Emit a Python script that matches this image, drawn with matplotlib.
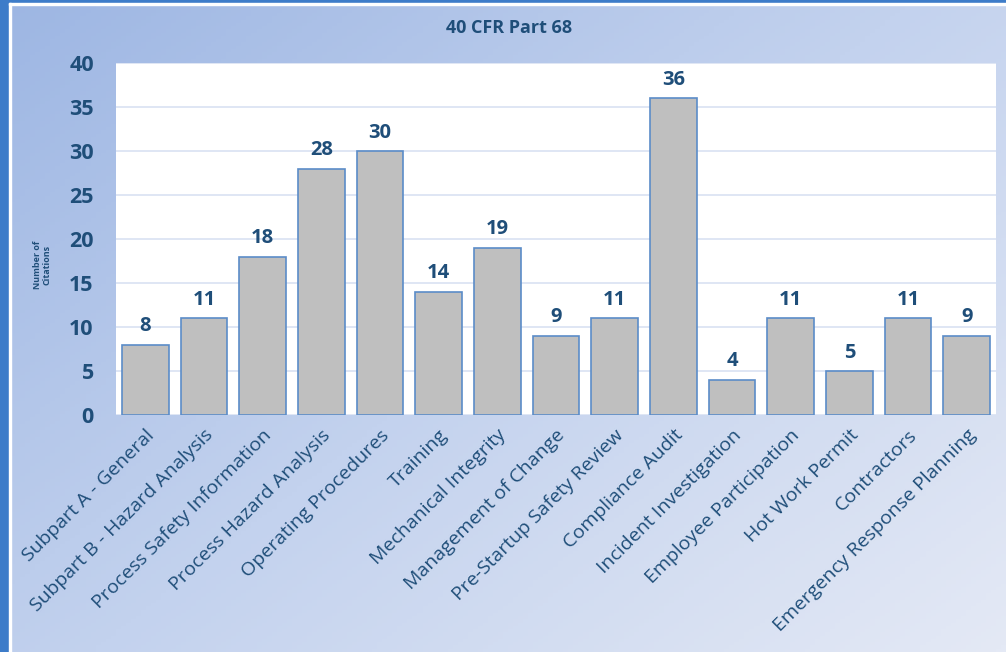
import matplotlib
matplotlib.use("Agg")
import matplotlib.pyplot as plt
import numpy as np
from matplotlib.colors import LinearSegmentedColormap

categories = ["Subpart A - General", "Subpart B - Hazard Analysis", "Process Safety Information",
              "Process Hazard Analysis", "Operating Procedures", "Training", "Mechanical Integrity",
              "Management of Change", "Pre-Startup Safety Review", "Compliance Audit",
              "Incident Investigation", "Employee Participation", "Hot Work Permit",
              "Contractors", "Emergency Response Planning"]
citations = [8, 11, 18, 28, 30, 14, 19, 9, 11, 36, 4, 11, 5, 11, 9]
yticks = [0, 5, 10, 15, 20, 25, 30, 35, 40]

plt.rcParams['font.family'] = ['Open Sans', 'DejaVu Sans']
W, H = 1006, 652
fig = plt.figure(figsize=(W/100, H/100), dpi=100)

# gradient background
bg = fig.add_axes([0, 0, 1, 1])
xx, yy = np.meshgrid(np.linspace(0, 1, 200), np.linspace(0, 1, 200))
t = (xx*0.55 + yy*0.45)
cmap = LinearSegmentedColormap.from_list("g", ["#9db6e3", "#c3d2ee", "#e4e9f5"])
bg.imshow(t, cmap=cmap, extent=[0, 1, 0, 1], origin='upper', aspect='auto')
bg.set_xlim(0, 1); bg.set_ylim(0, 1); bg.axis('off')
# borders
bg.add_patch(plt.Rectangle((0, 0), 9/W, 1, color="#3d7cc9", transform=bg.transAxes))
bg.add_patch(plt.Rectangle((0, 1-3/H), 1, 3/H, color="#3d7cc9", transform=bg.transAxes))
bg.add_patch(plt.Rectangle((9/W, 0), 2/W, 1-3/H, color="white", transform=bg.transAxes))
bg.add_patch(plt.Rectangle((9/W, 1-5/H), 1, 2/H, color="white", transform=bg.transAxes))

left, right, top, bottom = 116, 996, 63, 415
ax = fig.add_axes([left/W, 1-bottom/H, (right-left)/W, (bottom-top)/H])
ax.set_facecolor("white")
x = np.arange(len(categories))
bars = ax.bar(x, citations, width=0.8, color="#bfbfbf", edgecolor="#5b8cc8", linewidth=1.2, zorder=3)
ax.set_xlim(-0.5, len(categories)-0.5)
ax.set_ylim(0, 40)
ax.set_yticks(yticks)
ax.grid(axis='y', color="#d9e2f2", linewidth=1.2, zorder=0)
for s in ax.spines.values():
    s.set_visible(False)
ax.tick_params(axis='both', length=0)
ax.set_yticklabels([str(v) for v in yticks], fontsize=15.5, fontweight='bold', color="#1f4e79")
ax.tick_params(axis='y', pad=16)
ax.set_xticks(x)
ax.set_xticklabels(categories, rotation=45, ha='right', rotation_mode='anchor',
                   fontsize=14, color="#1f4e79")
ax.tick_params(axis='x', pad=8)
for xi, v in zip(x, citations):
    ax.annotate(str(v), (xi, v), xytext=(0, 6), textcoords='offset points',
                ha='center', va='bottom', fontsize=14.5, fontweight='bold', color="#1f4e79")

fig.text(509/W, 1-28/H, "40 CFR Part 68", ha='center', va='center', fontsize=13,
         fontweight='bold', color="#1f4e79")
fig.text(42/W, 1-265/H, "Number of\nCitations", ha='center', va='center', rotation=90,
         fontsize=6.5, fontweight='bold', color="#1f4e79", linespacing=1.0)

fig.savefig("out.png", dpi=100)
